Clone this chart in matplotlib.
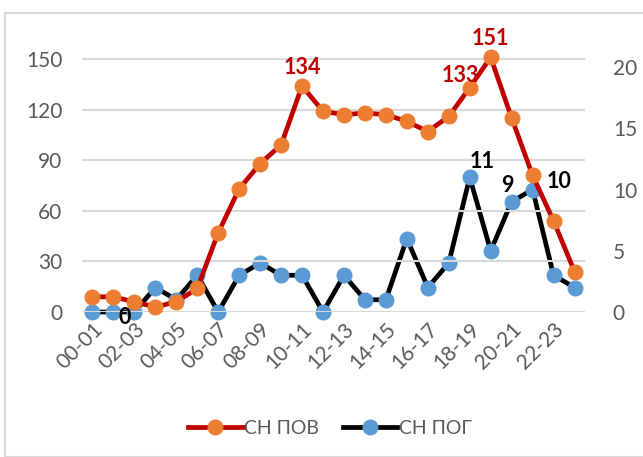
import matplotlib
matplotlib.use("Agg")
import matplotlib.pyplot as plt
from matplotlib.patches import Rectangle
from matplotlib.lines import Line2D

plt.rcParams['font.family'] = ['Lato', 'DejaVu Sans']

categories = ["00-01", "01-02", "02-03", "03-04", "04-05", "05-06", "06-07", "07-08",
              "08-09", "09-10", "10-11", "11-12", "12-13", "13-14", "14-15", "15-16",
              "16-17", "17-18", "18-19", "19-20", "20-21", "21-22", "22-23", "23-24"]
sn_pov = [9, 9, 6, 3, 6, 14, 47, 73, 88, 99, 134, 119, 117, 118, 117, 113,
          107, 116, 133, 151, 115, 81, 54, 24]
sn_pog = [0, 0, 0, 2, 1, 3, 0, 3, 4, 3, 3, 0, 3, 1, 1, 6,
          2, 4, 11, 5, 9, 10, 3, 2]
pov_labels = {10: "134", 18: "133", 19: "151"}
pog_labels = {1: "0", 18: "11", 20: "9", 21: "10"}
left_ticks = [0, 30, 60, 90, 120, 150]
right_ticks = [0, 5, 10, 15, 20]

W, H = 643, 457
fig = plt.figure(figsize=(W / 100, H / 100), dpi=100)
fig.patches.append(Rectangle((5 / W, 0), 1, 1 - 13 / H, transform=fig.transFigure,
                             fill=False, edgecolor="#D9D9D9", linewidth=1.5))

x0, x1 = 82, 585
ybot, ytop = 312, 42
ax = fig.add_axes([x0 / W, 1 - ybot / H, (x1 - x0) / W, (ybot - ytop) / H])
ax2 = ax.twinx()

xs = list(range(len(categories)))
ax.set_xlim(-0.5, len(categories) - 0.5)
ax.set_ylim(0, 150 * (ybot - ytop) / (312 - 59))
ax2.set_ylim(0, 20 * (ybot - ytop) / (312 - 67))

red, orange = "#C00000", "#ED7D31"
blue = "#5B9BD5"
ax.plot(xs, sn_pov, color=red, lw=3.4, marker="o", ms=10.5, mfc=orange, mec=orange,
        clip_on=False, zorder=3)
ax2.plot(xs, sn_pog, color="black", lw=3.4, marker="o", ms=10.5, mfc=blue, mec=blue,
         clip_on=False, zorder=3)

ax.set_zorder(ax2.get_zorder() + 1)
ax.patch.set_visible(False)

for a in (ax, ax2):
    for s in a.spines.values():
        s.set_visible(False)
    a.tick_params(length=0, labelsize=15, labelcolor="#595959")

ax.set_yticks(left_ticks)
ax.yaxis.grid(True, color="#D9D9D9", lw=1.5)
ax.set_axisbelow(True)
ax.tick_params(axis="y", pad=14)
ax2.set_yticks(right_ticks)
ax2.tick_params(axis="y", pad=20)

ax.set_xticks(xs[::2])
ax.set_xticklabels(categories[::2], rotation=45, ha="right", rotation_mode="anchor")
ax.tick_params(axis="x", pad=5)

pov_offsets = {10: (0, 6), 18: (-7, 1), 19: (0, 6)}
for i, t in pov_labels.items():
    ax.annotate(t, (xs[i], sn_pov[i]), xytext=pov_offsets[i], textcoords="offset points",
                ha="center", va="bottom", color=red, fontsize=15.5, fontweight="bold", zorder=5)

scale = ax.get_ylim()[1] / ax2.get_ylim()[1]
pog_style = {1: ((4, -4), "left", "center"),
             18: ((0, 4), "left", "bottom"),
             20: ((-3, 4), "center", "bottom"),
             21: ((10, 6), "left", "center")}
for i, t in pog_labels.items():
    off, ha, va = pog_style[i]
    ax.annotate(t, (xs[i], sn_pog[i] * scale), xytext=off, textcoords="offset points",
                ha=ha, va=va, color="black", fontsize=15.5, fontweight="bold", zorder=5)

handles = [Line2D([], [], color=red, lw=3.4, marker="o", ms=10.5, mfc=orange, mec=orange),
           Line2D([], [], color="black", lw=3.4, marker="o", ms=10.5, mfc=blue, mec=blue)]
fig.legend(handles, ["СН ПОВ", "СН ПОГ"], loc="center", bbox_to_anchor=(330 / W, 1 - 428 / H),
           ncol=2, frameon=False, fontsize=14, labelcolor="#595959", handlelength=2.8,
           handletextpad=0.1, columnspacing=1.2)

fig.savefig("out.png", dpi=100)
